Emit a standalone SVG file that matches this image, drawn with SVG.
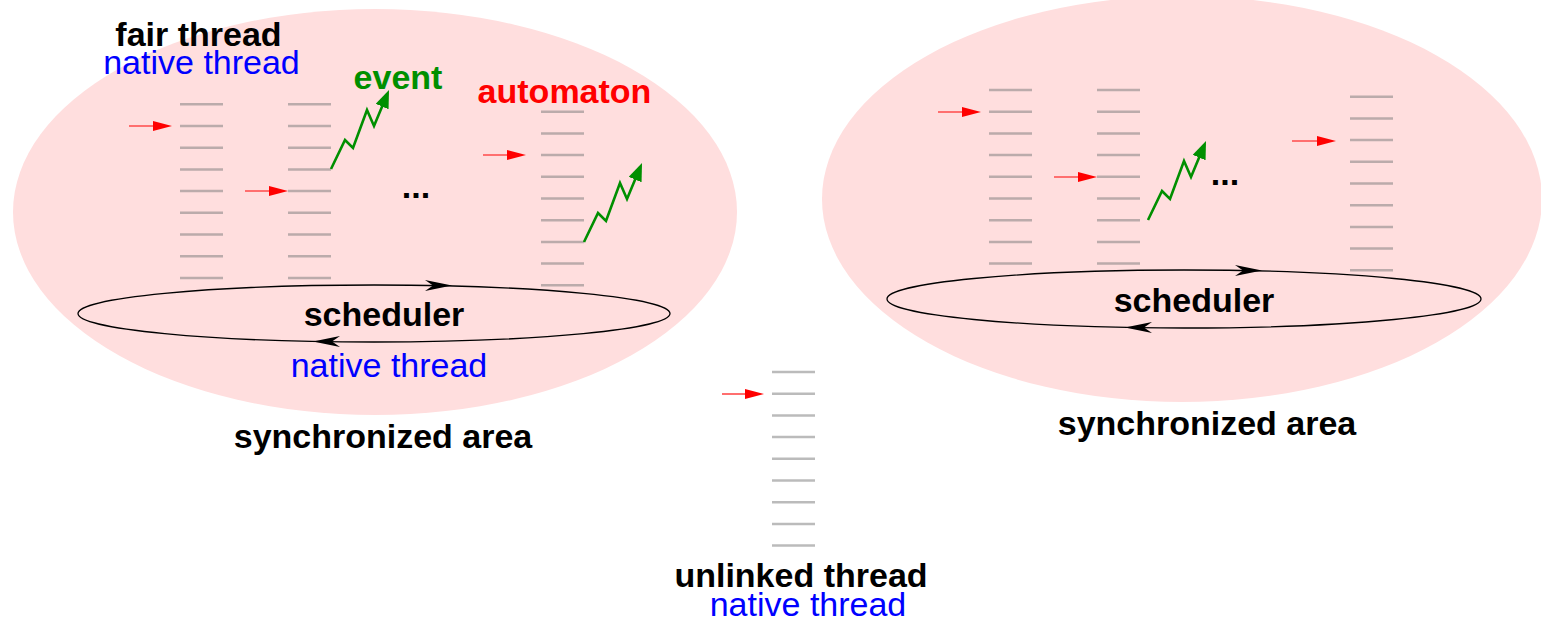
<svg xmlns="http://www.w3.org/2000/svg" xmlns:xlink="http://www.w3.org/1999/xlink" width="1541" height="621" viewBox="0 0 1541 621">
<style>
text{font-family:"Liberation Sans",Arial,Helvetica,sans-serif;font-size:34px;text-anchor:middle}
.b{font-weight:bold;fill:#000}
.nat{fill:#0000ff}
.ev{font-weight:bold;fill:#008f00}
.au{font-weight:bold;fill:#ff0000}
.area{fill:#ffdede}
.rung{fill:none;stroke:#777;stroke-opacity:0.5;stroke-width:2.5}
.sched{fill:none;stroke:#000;stroke-width:1.3}
.red{fill:none;stroke:#ff6f6f;stroke-width:1.8;marker-end:url(#ra)}
.zig{fill:none;stroke:#008f00;stroke-width:2.6;stroke-linejoin:miter;marker-end:url(#ev)}
</style>
<defs>
<path id="rungs" d="M0 0h43m-43 21.7h43m-43 21.7h43m-43 21.7h43m-43 21.7h43m-43 21.7h43m-43 21.7h43m-43 21.7h43m-43 21.7h43"/>
<path id="zz" d="M0 0l14 -29l8 8l14 -38l7 16l12.7 -30.5"/>
<path id="sh" d="M0 0L-27 -5.5L-19 0L-27 5.5Z" fill="#000"/>
<marker id="ra" markerUnits="userSpaceOnUse" viewBox="0 0 19 10" markerWidth="19" markerHeight="10" refX="15" refY="5" orient="auto"><path d="M0 0L19 5L0 10Z" fill="#ff0000"/></marker>
<marker id="ev" markerUnits="userSpaceOnUse" viewBox="0 0 18 14" markerWidth="18" markerHeight="14" refX="12" refY="7" orient="auto"><path d="M0 0L18 7L0 14Z" fill="#008f00"/></marker>
</defs>

<g id="area-left">
<ellipse class="area" cx="375" cy="212" rx="362" ry="203"/>
<text class="b" x="383" y="448">synchronized area</text>
</g>
<g id="area-right">
<ellipse class="area" cx="1182" cy="199" rx="360" ry="203"/>
<text class="b" x="1207" y="435">synchronized area</text>
</g>

<g id="fair-thread">
<use href="#rungs" class="rung" x="180" y="104.3"/>
<text class="b" x="198.5" y="46">fair thread</text>
<text class="nat" x="201.5" y="74">native thread</text>
</g>
<g id="thread-left-2">
<use href="#rungs" class="rung" x="288" y="104.3"/>
</g>
<g id="event-label">
<text class="ev" x="398" y="89">event</text>
</g>
<g id="dots-left">
<text class="b" x="416" y="198">...</text>
</g>
<g id="automaton">
<use href="#rungs" class="rung" x="541" y="111.7"/>
<text class="au" x="564.5" y="103">automaton</text>
</g>
<g id="scheduler-left">
<ellipse class="sched" cx="374" cy="313.5" rx="296" ry="28.5"/>
<use href="#sh" transform="translate(452 285.6)"/>
<use href="#sh" transform="translate(313 341.6) rotate(180)"/>
<text class="b" x="384" y="326">scheduler</text>
<text class="nat" x="389" y="377">native thread</text>
</g>

<g id="thread-right-1">
<use href="#rungs" class="rung" x="989" y="90"/>
</g>
<g id="thread-right-2">
<use href="#rungs" class="rung" x="1097" y="90"/>
</g>
<g id="dots-right">
<text class="b" x="1225" y="185">...</text>
</g>
<g id="thread-right-3">
<use href="#rungs" class="rung" x="1350" y="96.7"/>
</g>
<g id="scheduler-right">
<ellipse class="sched" cx="1184" cy="299" rx="297" ry="29"/>
<use href="#sh" transform="translate(1262 270.6)"/>
<use href="#sh" transform="translate(1125 327.6) rotate(180)"/>
<text class="b" x="1194" y="312">scheduler</text>
</g>

<g id="unlinked-thread">
<use href="#rungs" class="rung" x="772" y="372"/>
<text class="b" x="801" y="587">unlinked thread</text>
<text class="nat" x="808" y="616">native thread</text>
</g>

<g id="connectors">
<path class="red" d="M129 126H168"/>
<path class="red" d="M245 191H284"/>
<path class="red" d="M483 155H522"/>
<path class="red" d="M938 112H977"/>
<path class="red" d="M1054 177H1093"/>
<path class="red" d="M1292 141H1332"/>
<path class="red" d="M722 394H760"/>
<use href="#zz" class="zig" x="331" y="169"/>
<use href="#zz" class="zig" x="584" y="242"/>
<use href="#zz" class="zig" x="1148" y="220"/>
</g>
</svg>
